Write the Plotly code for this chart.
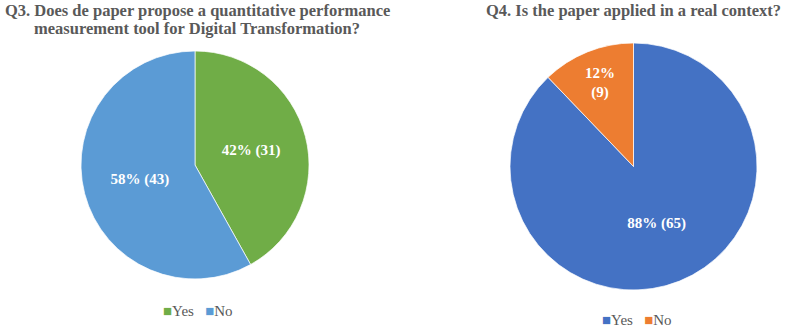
import plotly.graph_objects as go

labels = ["Yes", "No"]
q3_values = [31, 43]
q4_values = [65, 9]
q3_colors = ["#70AD47", "#5B9BD5"]
q4_colors = ["#4472C4", "#ED7D31"]
q3_title = ["Q3. Does de paper propose a quantitative performance",
            "measurement tool for Digital Transformation?"]
q4_title = ["Q4. Is the paper applied in a real context?"]

def make_text(vals, breaks):
    tot = sum(vals)
    out = []
    for v, b in zip(vals, breaks):
        sep = "<br>" if b else " "
        out.append(f"{round(100 * v / tot)}%{sep}({v})")
    return out

W, H = 789, 336
FONT = "Liberation Serif, Times New Roman, serif"
GRAY = "#595959"

def px(x):
    return x / W

def py(y):
    return 1 - y / H

fig = go.Figure()
fig.add_trace(go.Pie(
    labels=labels, values=q3_values, sort=False, direction="clockwise", rotation=0,
    marker=dict(colors=q3_colors, line=dict(color="white", width=0.7)),
    text=make_text(q3_values, [False, False]), textinfo="text", textposition="inside",
    insidetextorientation="horizontal",
    textfont=dict(family=FONT, size=15, color="white", weight="bold"),
    domain=dict(x=[px(81), px(309)], y=[py(279), py(51)]),
    showlegend=False, hoverinfo="label+value+percent",
))
fig.add_trace(go.Pie(
    labels=labels, values=q4_values, sort=False, direction="clockwise", rotation=0,
    marker=dict(colors=q4_colors, line=dict(color="white", width=0.7)),
    text=make_text(q4_values, [False, True]), textinfo="text", textposition="inside",
    insidetextorientation="horizontal",
    textfont=dict(family=FONT, size=15, color="white", weight="bold"),
    domain=dict(x=[px(510), px(757)], y=[py(290), py(43)]),
    showlegend=False, hoverinfo="label+value+percent",
))

title_font = dict(family=FONT, size=16.5, color=GRAY, weight="bold")
for i, line in enumerate(q3_title):
    fig.add_annotation(text=line, x=px(197), y=py(10 + 18 * i), xref="paper", yref="paper",
                       xanchor="center", yanchor="middle", showarrow=False, font=title_font)
for i, line in enumerate(q4_title):
    fig.add_annotation(text=line, x=px(633), y=py(11 + 18 * i), xref="paper", yref="paper",
                       xanchor="center", yanchor="middle", showarrow=False, font=title_font)

def legend_text(colors):
    parts = []
    for lab, c in zip(labels, colors):
        parts.append(f"<span style='color:{c};font-size:15px'>■</span>{lab}")
    return "\u00a0\u00a0\u00a0".join(parts)

leg_font = dict(family=FONT, size=15, color=GRAY)
fig.add_annotation(text=legend_text(q3_colors), x=px(198), y=py(311), xref="paper", yref="paper",
                   xanchor="center", yanchor="middle", showarrow=False, font=leg_font)
fig.add_annotation(text=legend_text(q4_colors), x=px(637), y=py(320), xref="paper", yref="paper",
                   xanchor="center", yanchor="middle", showarrow=False, font=leg_font)

fig.update_layout(
    width=W, height=H,
    margin=dict(l=0, r=0, t=0, b=0),
    paper_bgcolor="white", plot_bgcolor="white",
    showlegend=False,
)
fig.write_html("out.html", config={"displayModeBar": False},
               post_script="document.body.style.margin='0';document.body.style.padding='0';")
